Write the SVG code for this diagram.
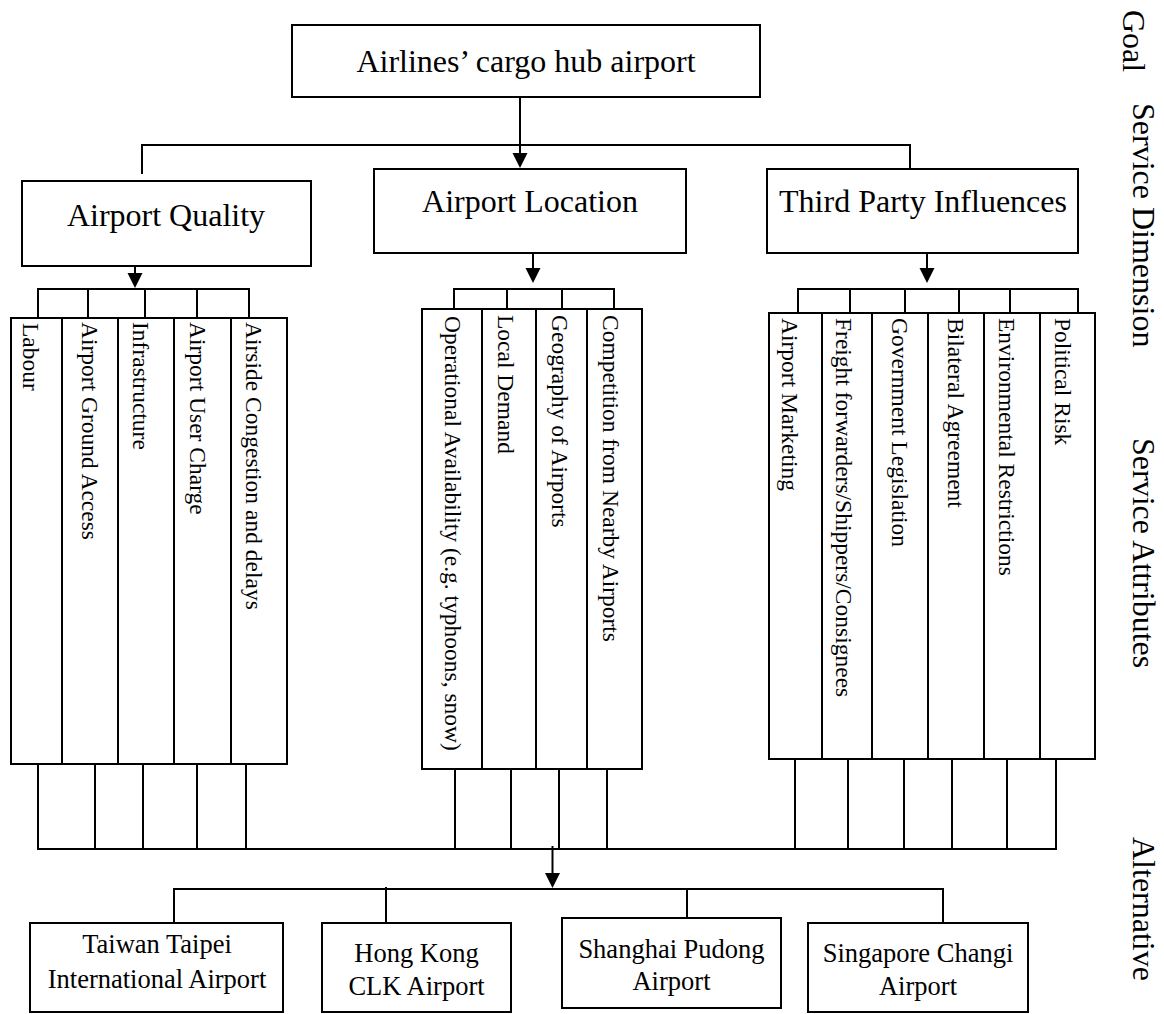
<svg xmlns="http://www.w3.org/2000/svg" width="1164" height="1014" viewBox="0 0 1164 1014">
<style>
.box{fill:#fff;stroke:#000;stroke-width:2}
.ln{fill:none;stroke:#000;stroke-width:2}
.t{font-family:"Liberation Serif","Times New Roman",serif;fill:#000}
.h{font-size:32px;text-anchor:middle}
.a{font-size:26.5px;text-anchor:middle}
.v{font-size:23.5px}
.r{font-size:32px}
</style>
<defs>
<marker id="arr" markerUnits="userSpaceOnUse" markerWidth="16" markerHeight="16" refX="5" refY="7.5" orient="auto">
<path d="M0,0 L15,7.5 L0,15 z" fill="#000"/>
</marker>
</defs>
<rect width="1164" height="1014" fill="#fff"/>

<g id="connectors">
<line class="ln" x1="520" y1="97" x2="520" y2="158" marker-end="url(#arr)"/>
<polyline class="ln" points="142,174 142,145 910,145 910,173"/>
<line class="ln" x1="135" y1="266" x2="135" y2="278" marker-end="url(#arr)"/>
<line class="ln" x1="533" y1="253" x2="533" y2="273" marker-end="url(#arr)"/>
<line class="ln" x1="927" y1="253" x2="927" y2="273" marker-end="url(#arr)"/>
<path class="ln" d="M38,318 V289 H249 V318 M88,289 V318 M145,289 V318 M197,289 V318"/>
<path class="ln" d="M454,309 V289 H614 V309 M507,289 V309 M562,289 V309"/>
<path class="ln" d="M798,313 V289 H1078 V313 M850,289 V313 M905,289 V313 M959,289 V313 M1010,289 V313"/>
<path class="ln" d="M38,764 V849 M95,764 V849 M143,764 V849 M197,764 V849 M246,764 V849"/>
<path class="ln" d="M455,769 V849 M511,769 V849 M559,769 V849 M607,769 V849"/>
<path class="ln" d="M795,759 V849 M848,759 V849 M904,759 V849 M952,759 V849 M1007,759 V849 M1056,759 V849"/>
<line class="ln" x1="37" y1="849" x2="1057" y2="849"/>
<line class="ln" x1="552.5" y1="846" x2="552.5" y2="878" marker-end="url(#arr)"/>
<path class="ln" d="M174,923 V889 H943 V923 M386,887 V923 M687,889 V918"/>
</g>

<g id="goal">
<rect class="box" x="292" y="25" width="468" height="72"/>
<text class="t h" x="526" y="72">Airlines’ cargo hub airport</text>
</g>

<g id="dim-quality">
<rect class="box" x="22" y="181" width="289" height="85"/>
<text class="t h" x="166" y="226">Airport Quality</text>
</g>
<g id="dim-location">
<rect class="box" x="374" y="169" width="312" height="84"/>
<text class="t h" x="530" y="212">Airport Location</text>
</g>
<g id="dim-third">
<rect class="box" x="767" y="169" width="311" height="84"/>
<text class="t h" x="923" y="212">Third Party Influences</text>
</g>

<g id="attr-quality">
<rect class="box" x="11" y="318" width="51" height="446"/>
<rect class="box" x="62" y="318" width="56" height="446"/>
<rect class="box" x="118" y="318" width="56" height="446"/>
<rect class="box" x="174" y="318" width="57" height="446"/>
<rect class="box" x="231" y="318" width="56" height="446"/>
<text class="t v" transform="translate(23,323) rotate(90)">Labour</text>
<text class="t v" transform="translate(82,322) rotate(90)">Airport Ground Access</text>
<text class="t v" transform="translate(133,322) rotate(90)">Infrastructure</text>
<text class="t v" transform="translate(190,322) rotate(90)">Airport User Charge</text>
<text class="t v" transform="translate(246,322) rotate(90)">Airside Congestion and delays</text>
</g>

<g id="attr-location">
<rect class="box" x="422" y="309" width="60" height="460"/>
<rect class="box" x="482" y="309" width="54" height="460"/>
<rect class="box" x="536" y="309" width="51" height="460"/>
<rect class="box" x="587" y="309" width="55" height="460"/>
<text class="t v" transform="translate(445,316) rotate(90)">Operational Availability (e.g. typhoons, snow)</text>
<text class="t v" transform="translate(498,315) rotate(90)">Local Demand</text>
<text class="t v" transform="translate(552,315) rotate(90)">Geography of Airports</text>
<text class="t v" transform="translate(603,315) rotate(90)">Competition from Nearby Airports</text>
</g>

<g id="attr-third">
<rect class="box" x="769" y="313" width="53" height="446"/>
<rect class="box" x="822" y="313" width="50" height="446"/>
<rect class="box" x="872" y="313" width="56" height="446"/>
<rect class="box" x="928" y="313" width="56" height="446"/>
<rect class="box" x="984" y="313" width="56" height="446"/>
<rect class="box" x="1040" y="313" width="55" height="446"/>
<text class="t v" transform="translate(782,318) rotate(90)">Airport Marketing</text>
<text class="t v" transform="translate(836,318) rotate(90)">Freight forwarders/Shippers/Consignees</text>
<text class="t v" transform="translate(892,318) rotate(90)">Government Legislation</text>
<text class="t v" transform="translate(948,318) rotate(90)">Bilateral Agreement</text>
<text class="t v" transform="translate(999,318) rotate(90)">Environmental Restrictions</text>
<text class="t v" transform="translate(1055,318) rotate(90)">Political Risk</text>
</g>

<g id="alt-taiwan">
<rect class="box" x="30" y="923" width="253" height="89"/>
<text class="t a" x="157" y="953">Taiwan Taipei</text>
<text class="t a" x="157" y="988">International Airport</text>
</g>
<g id="alt-hongkong">
<rect class="box" x="322" y="923" width="189" height="89"/>
<text class="t a" x="416.5" y="962">Hong Kong</text>
<text class="t a" x="416.5" y="995">CLK Airport</text>
</g>
<g id="alt-shanghai">
<rect class="box" x="562" y="918" width="219" height="90"/>
<text class="t a" x="671.5" y="958">Shanghai Pudong</text>
<text class="t a" x="671.5" y="990">Airport</text>
</g>
<g id="alt-singapore">
<rect class="box" x="808" y="923" width="220" height="89"/>
<text class="t a" x="918" y="962">Singapore Changi</text>
<text class="t a" x="918" y="995">Airport</text>
</g>

<g id="level-labels">
<text class="t r" transform="translate(1123,10) rotate(90)">Goal</text>
<text class="t r" transform="translate(1133,103) rotate(90)">Service Dimension</text>
<text class="t r" transform="translate(1133,438) rotate(90)">Service Attributes</text>
<text class="t r" transform="translate(1133,837) rotate(90)">Alternative</text>
</g>
</svg>
